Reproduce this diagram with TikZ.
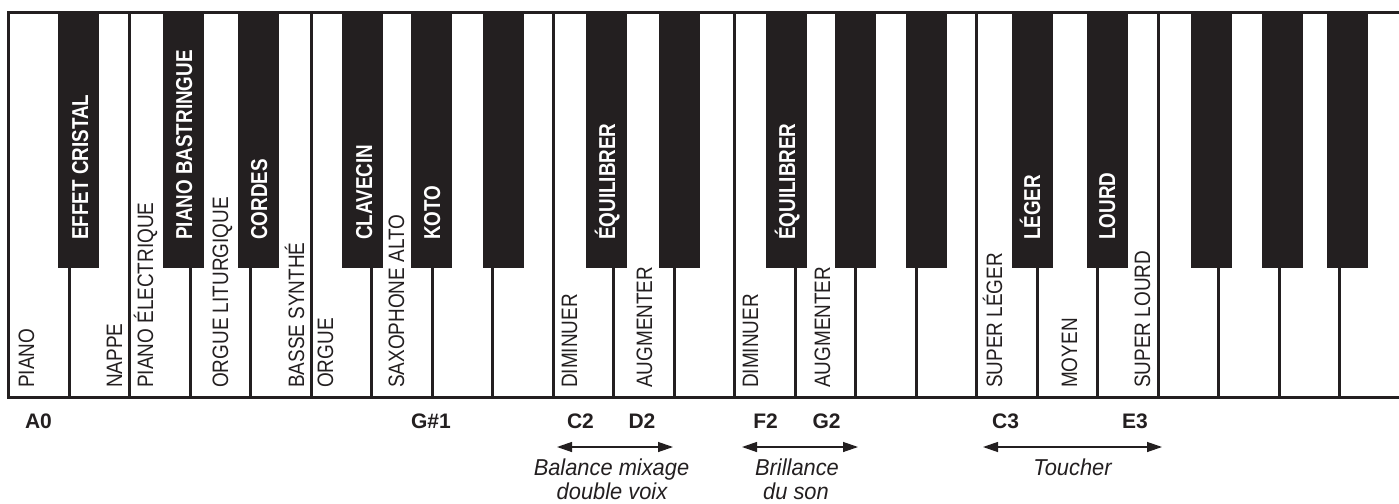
\documentclass[tikz,border=0pt]{standalone}
\usepackage{fontspec}
\setmainfont{Liberation Sans}[FakeStretch=0.85]
\newfontfamily\blkfont{Liberation Sans}[FakeStretch=0.82]
\newfontfamily\notefont{Liberation Sans}
\newfontfamily\capfont{Liberation Sans}[FakeStretch=0.95]
\usetikzlibrary{arrows.meta}
\definecolor{ink}{HTML}{231F20}
\begin{document}
\begin{tikzpicture}[x=1pt,y=-1pt,
  keyline/.style={draw=ink,line width=3pt},
  blackkey/.style={fill=ink},
  wlabel/.style={rotate=90,anchor=base west,inner sep=0pt,text=ink,font=\fontsize{22.3}{24}\selectfont},
  blabel/.style={rotate=90,anchor=base west,inner sep=0pt,text=white,font=\blkfont\bfseries\fontsize{23}{25}\selectfont},
  notelabel/.style={anchor=base,inner sep=0pt,text=ink,font=\notefont\bfseries\fontsize{21}{23}\selectfont},
  caption/.style={anchor=base,inner sep=0pt,text=ink,font=\capfont\itshape\fontsize{23}{25}\selectfont},
  spanarrow/.style={{Triangle[length=15pt,width=10pt]}-{Triangle[length=15pt,width=10pt]},draw=ink,line width=1.3pt}]
\path[use as bounding box] (0,0) rectangle (1399,503);
\fill[white] (0,0) rectangle (1399,503);
% white key dividers
\foreach \i in {1,...,22} {
  \draw[keyline] ({8.5+60.5*\i},13) -- ({8.5+60.5*\i},397);
}
% outline (right side lies outside the page)
\draw[keyline] (1404,13) -- (8.5,13) -- (8.5,397) -- (1404,397);
% black keys
\foreach \c in {78.5,183.5,258.5,362.5,431.5,503.5,606.5,679.5,786.5,855.5,926.5,1032.5,1107.5,1211.5,1282.5,1347.5} {
  \fill[blackkey] ({\c-20.5},13) rectangle ({\c+20.5},268);
}
% white key labels
\foreach \x/\t [count=\k] in {34/PIANO,122/NAPPE,153/PIANO ÉLECTRIQUE,228/ORGUE LITURGIQUE,304/BASSE SYNTHÉ,333/ORGUE,404/SAXOPHONE ALTO,577/DIMINUER,652/AUGMENTER,758/DIMINUER,830/AUGMENTER,1002/SUPER LÉGER,1077/MOYEN,1150/SUPER LOURD} {
  \node[wlabel] (w\k) at (\x,388) {\t};
}
% black key labels
\foreach \x/\t [count=\k] in {88/EFFET CRISTAL,192/PIANO BASTRINGUE,267/CORDES,372/CLAVECIN,440/KOTO,615/ÉQUILIBRER,795/ÉQUILIBRER,1040/LÉGER,1115/LOURD} {
  \node[blabel] (b\k) at (\x,240) {\t};
}
% note names
\foreach \x/\t [count=\k] in {38.5/A0,431/G\#1,580.5/C2,642/D2,765.5/F2,826.5/G2,1005.5/C3,1135/E3} {
  \node[notelabel] (n\k) at (\x,428) {\t};
}
% ranges
\coordinate (r1l) at (557,447);
\coordinate (r1r) at (673,447);
\coordinate (r2l) at (742,447);
\coordinate (r2r) at (858,447);
\coordinate (r3l) at (983,447);
\coordinate (r3r) at (1162,447);
\draw[spanarrow] (r1l) -- (r1r);
\draw[spanarrow] (r2l) -- (r2r);
\draw[spanarrow] (r3l) -- (r3r);
\node[caption] (c1a) at (611.5,475.5) {Balance mixage};
\node[caption] (c1b) at (612,499) {double voix};
\node[caption] (c2a) at (797,475.5) {Brillance};
\node[caption] (c2b) at (796,499) {du son};
\node[caption] (c3) at (1072.5,475.5) {Toucher};
\end{tikzpicture}
\end{document}
